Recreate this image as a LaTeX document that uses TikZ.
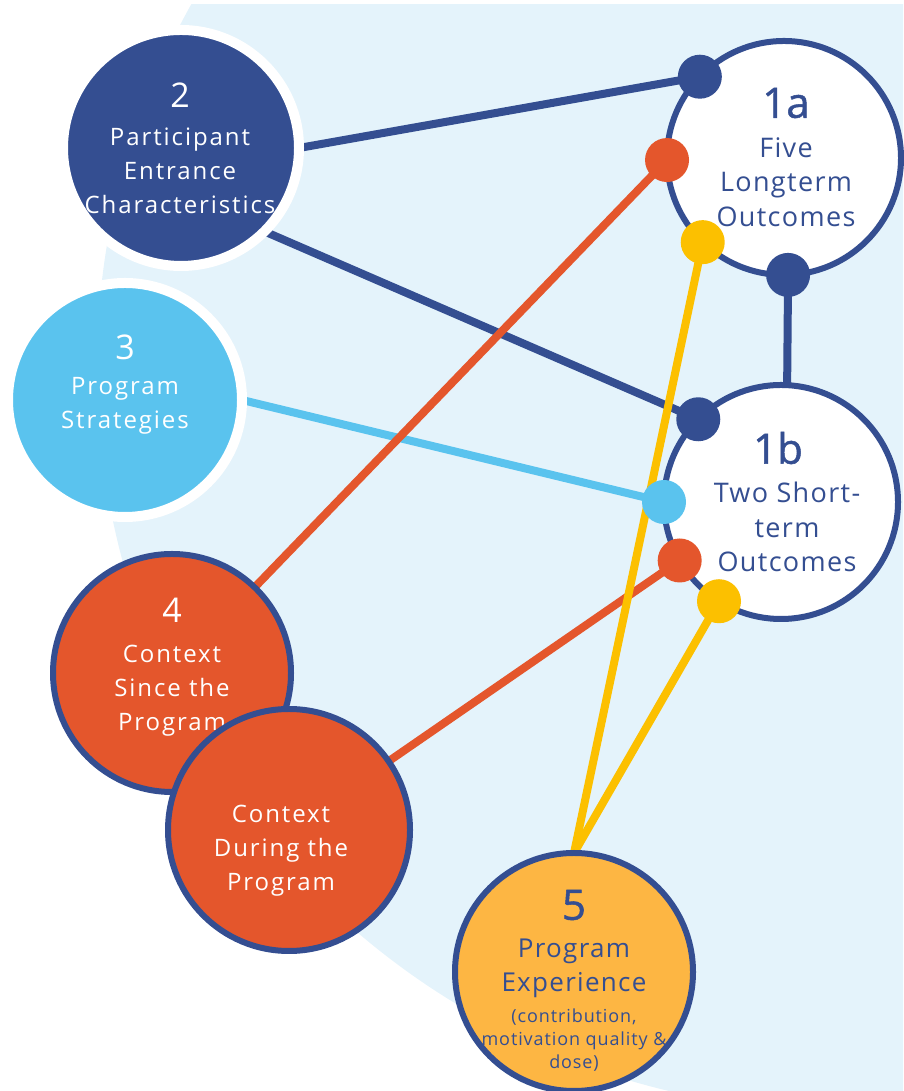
\documentclass[tikz,border=0pt]{standalone}
\usepackage{fontspec}
\setmainfont{Open Sans}
\newfontfamily\airy[LetterSpace=8]{Open Sans}
\newfontfamily\wide[LetterSpace=5]{Open Sans}
\newfontfamily\heavy[FakeBold=1.2]{Open Sans}
\usetikzlibrary{positioning}
\definecolor{navy}{RGB}{52,78,145}
\definecolor{skyblue}{RGB}{90,195,238}
\definecolor{rust}{RGB}{228,86,44}
\definecolor{gold}{RGB}{252,192,0}
\definecolor{amber}{RGB}{253,182,67}
\definecolor{paleblue}{RGB}{228,243,251}
\pgfdeclarelayer{backdrop}
\pgfdeclarelayer{links}
\pgfsetlayers{backdrop,links,main}
\tikzset{
  every node/.style={inner sep=0pt,outer sep=0pt},
  haloed/.style={circle,minimum size=#1,draw=white,line width=10pt},
  ringed/.style={circle,minimum size=#1,draw=navy,line width=6pt},
  knob/.style={circle,fill=#1,minimum size=44pt},
  link/.style={line width=8pt,draw=#1},
  num/.style={font=\fontsize{34}{34}\selectfont},
  bignum/.style={font=\heavy\fontsize{42}{42}\selectfont},
  body/.style={align=center,font=\airy\fontsize{24}{34}\selectfont},
  outbody/.style={align=center,font=\wide\fontsize{27}{34.5}\selectfont},
  small/.style={align=center,font=\wide\fontsize{18}{23}\selectfont}
}

\begin{document}
\begin{tikzpicture}[x=1pt,y=1pt]
  \useasboundingbox (0,0) rectangle (903,1091);

  % backdrop
  \begin{pgfonlayer}{backdrop}
    \clip (0,0) rectangle (903,1086);
    \fill[paleblue] (841,724) circle (744);
  \end{pgfonlayer}

  % outcomes
  \node[ringed=234pt,fill=white] (c1a) at (784,933) {};
  \node[bignum,navy] (n1a) at (786,988) {1a};
  \node[outbody,navy] (t1a) at (786,909) {Five\\Longterm\\Outcomes};
  \node[ringed=234pt,fill=white] (c1b) at (781,589) {};
  \node[bignum,navy] (n1b) at (778,643) {1b};
  \node[outbody,navy] (t1b) at (787,564) {Two Short-\\term\\Outcomes};

  % factors
  \node[haloed=236pt,fill=navy] (c2) at (181,943) {};
  \node[num,white] (n2) at (180,996) {2};
  \node[body,white] (t2) at (180,920) {Participant\\Entrance\\Characteristics};
  \node[haloed=234pt,fill=skyblue] (c3) at (125,691) {};
  \node[num,white] (n3) at (125,744) {3};
  \node[body,white] (t3) at (125,685) {Program\\Strategies};
  \node[ringed=238pt,fill=rust] (c4) at (172,418) {};
  \node[num,white] (n4) at (172,481) {4};
  \node[body,white] (t4) at (172,400) {Context\\Since the\\Program};
  \node[ringed=242pt,fill=rust] (cd) at (289,261) {};
  \node[body,white] (td) at (281,240) {Context\\During the\\Program};
  \node[ringed=238pt,fill=amber] (c5) at (574,119) {};
  \node[bignum,navy] (n5) at (574,186) {5};
  \node[outbody,navy,font=\wide\fontsize{26}{34}\selectfont] (t5) at (574,123) {Program\\Experience};
  \node[small,navy] (s5) at (574,51) {(contribution,\\motivation quality \&\\dose)};

  % connection points
  \node[knob=navy] (k1a-navy) at (c1a.136) {};
  \node[knob=rust] (k1a-rust) at (c1a.181) {};
  \node[knob=gold] (k1a-gold) at (c1a.226) {};
  \node[knob=navy] (k1a-down) at (c1a.272) {};
  \node[knob=navy] (k1b-navy) at (c1b.135) {};
  \node[knob=skyblue] (k1b-sky) at (c1b.180) {};
  \node[knob=rust] (k1b-rust) at (c1b.210) {};
  \node[knob=gold] (k1b-gold) at (c1b.238) {};

  % links
  \begin{pgfonlayer}{links}
    \draw[link=navy] (c2.east) -- (k1a-navy.center);
    \draw[link=navy] (c2.-45) -- (k1b-navy.center);
    \draw[link=skyblue] (c3.east) -- (k1b-sky.center);
    \draw[link=rust] (c4.center) -- (k1a-rust.center);
    \draw[link=rust] (cd.center) -- (k1b-rust.center);
    \draw[link=gold] (c5.north) -- (k1a-gold.center);
    \draw[link=gold] (c5.north) -- (k1b-gold.center);
    \draw[link=navy] (k1a-down.center) -- (c1b.87);
  \end{pgfonlayer}
\end{tikzpicture}
\end{document}
